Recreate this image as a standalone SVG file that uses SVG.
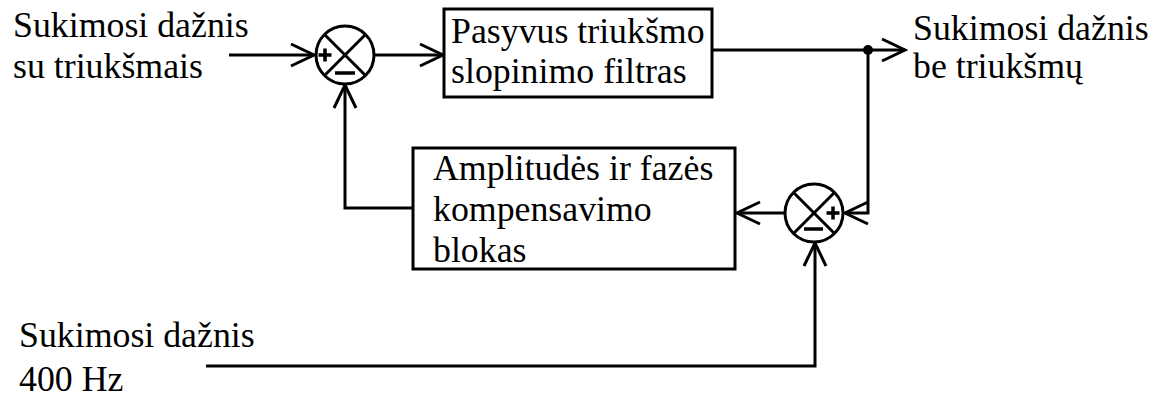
<svg xmlns="http://www.w3.org/2000/svg" width="1167" height="397" viewBox="0 0 1167 397">
  <style>
    text { font-family: "Liberation Serif", "Times New Roman", serif; font-size: 35.8px; fill: #000; }
    .box { fill: #fff; stroke: #000; stroke-width: 3; }
    .sum { fill: #fff; stroke: #000; stroke-width: 3; }
    .wire { fill: none; stroke: #000; stroke-width: 3; }
    .sign { stroke: #000; stroke-width: 3.5; fill: none; }
  </style>
  <defs>
    <marker id="arrow" viewBox="-26 -14 30 28" refX="0" refY="0" markerWidth="30" markerHeight="28" markerUnits="userSpaceOnUse" orient="auto">
      <path d="M -23 -11 L 0 0 L -23 11" fill="none" stroke="#000" stroke-width="3"/>
    </marker>
  </defs>

  <!-- input and output labels -->
  <g id="label-input">
    <text x="13" y="37">Sukimosi dažnis</text>
    <text x="13" y="78">su triukšmais</text>
  </g>
  <g id="label-output">
    <text x="913" y="40">Sukimosi dažnis</text>
    <text x="913" y="78">be triukšmų</text>
  </g>
  <g id="label-reference">
    <text x="19" y="347">Sukimosi dažnis</text>
    <text x="19" y="391">400 Hz</text>
  </g>

  <!-- connectors -->
  <g id="connectors">
    <line class="wire" x1="229" y1="55" x2="314" y2="55" marker-end="url(#arrow)"/>
    <line class="wire" x1="374" y1="55" x2="443" y2="55" marker-end="url(#arrow)"/>
    <line class="wire" x1="712" y1="50" x2="905" y2="50" marker-end="url(#arrow)"/>
    <polyline class="wire" points="868,50 868,213 845,213" marker-end="url(#arrow)"/>
    <line class="wire" x1="784" y1="213" x2="737" y2="213" marker-end="url(#arrow)"/>
    <polyline class="wire" points="413,208 345,208 345,85" marker-end="url(#arrow)"/>
    <polyline class="wire" points="206,366 815,366 815,243" marker-end="url(#arrow)"/>
    <circle cx="868" cy="50" r="5" fill="#000"/>
  </g>

  <!-- first summing junction -->
  <g id="sum1">
    <circle class="sum" cx="345" cy="55" r="29"/>
    <line class="wire" x1="324.5" y1="34.5" x2="365.5" y2="75.5"/>
    <line class="wire" x1="365.5" y1="34.5" x2="324.5" y2="75.5"/>
    <path class="sign" d="M 318.5 55 H 331.5 M 325 48.5 V 61.5"/>
    <path class="sign" d="M 335 73 H 355"/>
  </g>

  <!-- noise suppression filter -->
  <g id="filter">
    <rect class="box" x="444" y="9" width="268" height="88"/>
    <text x="451" y="43">Pasyvus triukšmo</text>
    <text x="451" y="83">slopinimo filtras</text>
  </g>

  <!-- second summing junction -->
  <g id="sum2">
    <circle class="sum" cx="814" cy="213" r="29"/>
    <line class="wire" x1="793.5" y1="192.5" x2="834.5" y2="233.5"/>
    <line class="wire" x1="834.5" y1="192.5" x2="793.5" y2="233.5"/>
    <path class="sign" d="M 826.5 213 H 839.5 M 833 206.5 V 219.5"/>
    <path class="sign" d="M 804 229 H 823"/>
  </g>

  <!-- amplitude and phase compensation block -->
  <g id="compensator">
    <rect class="box" x="413" y="148" width="322" height="121"/>
    <text x="433" y="180">Amplitudės ir fazės</text>
    <text x="433" y="221">kompensavimo</text>
    <text x="433" y="262">blokas</text>
  </g>
</svg>
